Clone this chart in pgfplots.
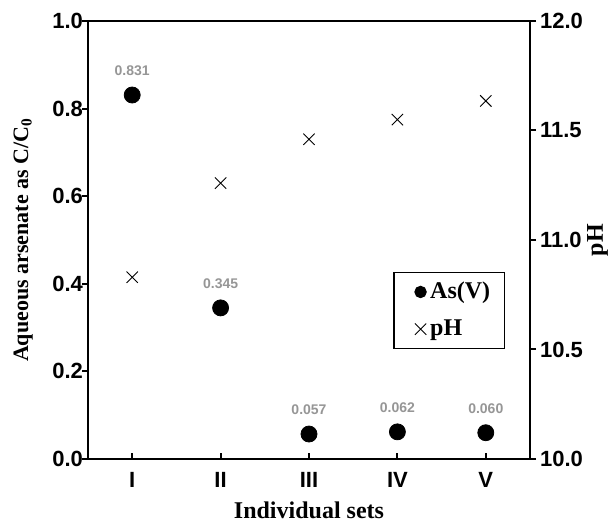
\documentclass[border=0pt]{standalone}
\usepackage{pgfplots}
\pgfplotsset{compat=1.18}
\usepackage{fontspec}
\setmainfont{Liberation Serif}
\newfontfamily\arialfont{Liberation Sans}
\definecolor{lblgray}{RGB}{150,150,150}

\begin{document}
\begin{tikzpicture}
\pgfplotsset{
  every axis/.append style={
    scale only axis,
    width=221pt, height=219pt,
    xmin=0.5, xmax=5.5,
    axis line style={line width=1pt},
    tick style={line width=1pt, black},
    major tick length=3pt,
    /pgf/number format/assume math mode=true,
    ticklabel style={font=\arialfont\bfseries\fontsize{11}{13}\selectfont},
    label style={font=\bfseries\fontsize{12}{14}\selectfont},
  },
}
\begin{axis}[
  name=main,
  ymin=0, ymax=1,
  ytick={0,0.2,0.4,0.6,0.8,1.0},
  xtick={1,2,3,4,5},
  xticklabels={I,II,III,IV,V},
  xtick pos=bottom, ytick pos=left,
  xtick align=inside, ytick align=outside,
  xticklabel style={yshift=-3pt},
  yticklabel style={xshift=4pt, /pgf/number format/fixed, /pgf/number format/fixed zerofill, /pgf/number format/precision=1},
  ylabel={Aqueous arsenate as C/C\textsubscript{0}},
  xlabel={Individual sets},
  xlabel style={yshift=-0.5pt},
  ylabel style={at={([xshift=-24pt]axis description cs:0,0.5)}, anchor=south,
    font=\bfseries\fontsize{11}{13}\selectfont},
]
\addplot[only marks, mark=*, mark size=4pt, black,
  nodes near coords, point meta=explicit symbolic,
  nodes near coords style={anchor=south, yshift=6pt, text=lblgray,
    font=\arialfont\bfseries\fontsize{7}{8}\selectfont}]
  table[meta=label] {
x y label
1 0.831 0.831
2 0.345 0.345
3 0.057 0.057
4 0.062 0.062
5 0.060 0.060
};
\end{axis}
\begin{axis}[
  ymin=10, ymax=12,
  ytick={10,10.5,11,11.5,12},
  axis x line=none,
  axis y line*=right,
  ytick align=outside,
  yticklabel style={xshift=-1.5pt, /pgf/number format/fixed, /pgf/number format/fixed zerofill, /pgf/number format/precision=1},
  ylabel={pH},
  ylabel style={at={([xshift=25pt]axis description cs:1,0.5)}, anchor=north},
  legend style={at={(0.943,0.428)}, anchor=north east, draw=black, line width=0.6pt,
    font=\bfseries\fontsize{12}{14}\selectfont, row sep=5pt,
    inner xsep=5pt, inner ysep=3pt, cells={anchor=west}},
  legend cell align=left,
  legend image code/.code={\path (0cm,0cm); \draw[#1] plot coordinates {(8pt,0cm)};},
]
\addlegendimage{only marks, mark=*, mark size=2.8pt, black}
\addlegendentry{As(V)}
\addplot[only marks, mark=x, mark size=4pt, black, line width=0.45pt]
  table {
x y
1 10.83
2 11.26
3 11.46
4 11.55
5 11.635
};
\addlegendentry{pH}
\end{axis}
\pgfresetboundingbox
\path[use as bounding box] ([shift={(-44pt,-31.5pt)}]main.south west)
  rectangle ([shift={(41.5pt,10.5pt)}]main.north east);
\end{tikzpicture}
\end{document}
